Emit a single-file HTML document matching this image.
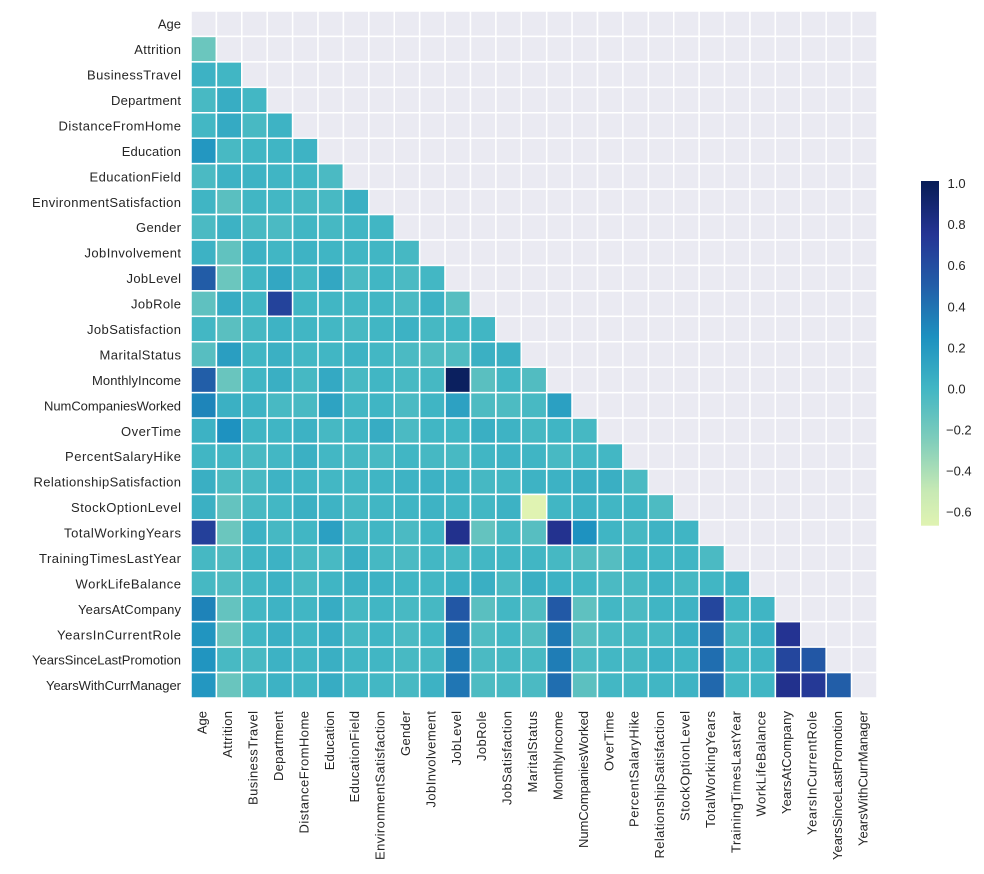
<!DOCTYPE html>
<html>
<head>
<meta charset="utf-8">
<style>
html,body{margin:0;padding:0;background:#fff;}
svg{display:block;}
text{font-family:"Liberation Sans",Arial,sans-serif;font-size:13px;fill:#262626;}
</style>
</head>
<body>
<svg id="chart" width="984" height="874" viewBox="0 0 984 874" xmlns="http://www.w3.org/2000/svg">
<defs>
<linearGradient id="cb" x1="0" y1="0" x2="0" y2="1">
<stop offset="0" stop-color="#081d58"/>
<stop offset="0.006" stop-color="#081d58"/>
<stop offset="0.155" stop-color="#253494"/>
<stop offset="0.304" stop-color="#225ea8"/>
<stop offset="0.453" stop-color="#1d91c0"/>
<stop offset="0.602" stop-color="#41b6c4"/>
<stop offset="0.751" stop-color="#7fcdbb"/>
<stop offset="0.9" stop-color="#c7e9b4"/>
<stop offset="1" stop-color="#e0f3b2"/>
</linearGradient>
</defs>
<rect x="0" y="0" width="984" height="874" fill="#ffffff"/>
<g id="cells"></g>

<g text-anchor="end">
<text x="181" y="28.72">Age</text>
<text x="181" y="54.16" textLength="46.7">Attrition</text>
<text x="181" y="79.6" textLength="94">BusinessTravel</text>
<text x="181" y="105.04" textLength="70">Department</text>
<text x="181" y="130.48" textLength="122.5">DistanceFromHome</text>
<text x="181" y="155.92" textLength="59.3">Education</text>
<text x="181" y="181.36" textLength="91.5">EducationField</text>
<text x="181" y="206.8" textLength="149">EnvironmentSatisfaction</text>
<text x="181" y="232.24" textLength="45">Gender</text>
<text x="181" y="257.68" textLength="96.5">JobInvolvement</text>
<text x="181" y="283.12" textLength="54.5">JobLevel</text>
<text x="181" y="308.56" textLength="50">JobRole</text>
<text x="181" y="334.0" textLength="94">JobSatisfaction</text>
<text x="181" y="359.44" textLength="81.5">MaritalStatus</text>
<text x="181" y="384.88" textLength="89">MonthlyIncome</text>
<text x="181" y="410.32" textLength="137">NumCompaniesWorked</text>
<text x="181" y="435.76" textLength="60">OverTime</text>
<text x="181" y="461.2" textLength="116">PercentSalaryHike</text>
<text x="181" y="486.64" textLength="147.5">RelationshipSatisfaction</text>
<text x="181" y="512.08" textLength="110">StockOptionLevel</text>
<text x="181" y="537.52" textLength="117">TotalWorkingYears</text>
<text x="181" y="562.96" textLength="142">TrainingTimesLastYear</text>
<text x="181" y="588.4" textLength="105.5">WorkLifeBalance</text>
<text x="181" y="613.84" textLength="103">YearsAtCompany</text>
<text x="181" y="639.28" textLength="124">YearsInCurrentRole</text>
<text x="181" y="664.72" textLength="149">YearsSinceLastPromotion</text>
<text x="181" y="690.16" textLength="135">YearsWithCurrManager</text>
</g>

<g text-anchor="end">
<text transform="translate(206.7,711) rotate(-90)">Age</text>
<text transform="translate(232.11,711) rotate(-90)" textLength="46.7">Attrition</text>
<text transform="translate(257.52,711) rotate(-90)" textLength="94">BusinessTravel</text>
<text transform="translate(282.93,711) rotate(-90)" textLength="70">Department</text>
<text transform="translate(308.34,711) rotate(-90)" textLength="122.5">DistanceFromHome</text>
<text transform="translate(333.75,711) rotate(-90)" textLength="59.3">Education</text>
<text transform="translate(359.16,711) rotate(-90)" textLength="91.5">EducationField</text>
<text transform="translate(384.57,711) rotate(-90)" textLength="149">EnvironmentSatisfaction</text>
<text transform="translate(409.98,711) rotate(-90)" textLength="45">Gender</text>
<text transform="translate(435.39,711) rotate(-90)" textLength="96.5">JobInvolvement</text>
<text transform="translate(460.8,711) rotate(-90)" textLength="54.5">JobLevel</text>
<text transform="translate(486.21,711) rotate(-90)" textLength="50">JobRole</text>
<text transform="translate(511.62,711) rotate(-90)" textLength="94">JobSatisfaction</text>
<text transform="translate(537.03,711) rotate(-90)" textLength="81.5">MaritalStatus</text>
<text transform="translate(562.44,711) rotate(-90)" textLength="89">MonthlyIncome</text>
<text transform="translate(587.85,711) rotate(-90)" textLength="137">NumCompaniesWorked</text>
<text transform="translate(613.26,711) rotate(-90)" textLength="60">OverTime</text>
<text transform="translate(638.67,711) rotate(-90)" textLength="116">PercentSalaryHike</text>
<text transform="translate(664.08,711) rotate(-90)" textLength="147.5">RelationshipSatisfaction</text>
<text transform="translate(689.49,711) rotate(-90)" textLength="110">StockOptionLevel</text>
<text transform="translate(714.9,711) rotate(-90)" textLength="117">TotalWorkingYears</text>
<text transform="translate(740.31,711) rotate(-90)" textLength="142">TrainingTimesLastYear</text>
<text transform="translate(765.72,711) rotate(-90)" textLength="105.5">WorkLifeBalance</text>
<text transform="translate(791.13,711) rotate(-90)" textLength="103">YearsAtCompany</text>
<text transform="translate(816.54,711) rotate(-90)" textLength="124">YearsInCurrentRole</text>
<text transform="translate(841.95,711) rotate(-90)" textLength="149">YearsSinceLastPromotion</text>
<text transform="translate(867.36,711) rotate(-90)" textLength="135">YearsWithCurrManager</text>
</g>

<rect x="921" y="181" width="18" height="344.7" fill="url(#cb)"/>
<g>
<text x="947.5" y="188">1.0</text>
<text x="947.5" y="229.1">0.8</text>
<text x="947.5" y="270.2">0.6</text>
<text x="947.5" y="311.3">0.4</text>
<text x="947.5" y="352.4">0.2</text>
<text x="947.5" y="393.5">0.0</text>
<text x="946" y="434.5">−0.2</text>
<text x="946" y="475.6">−0.4</text>
<text x="946" y="516.7">−0.6</text>
</g>
</svg>
<script>
(function(){
var L=[
[],
[-0.17],
[0.03,0.0],
[-0.03,0.06,-0.01],
[-0.01,0.08,-0.03,0.02],
[0.21,-0.03,0.0,0.01,0.02],
[-0.04,0.03,0.02,0.01,0.0,-0.04],
[0.01,-0.10,0.0,-0.01,-0.02,-0.03,0.04],
[-0.04,0.03,-0.03,-0.04,0.0,-0.02,0.0,0.0],
[0.03,-0.13,0.03,0.0,0.02,0.01,0.0,0.0,-0.02],
[0.51,-0.17,0.0,0.1,-0.01,0.1,-0.04,0.0,-0.04,-0.01],
[-0.12,0.07,0.0,0.66,0.0,0.0,-0.01,0.0,-0.04,0.03,-0.09],
[-0.01,-0.10,-0.02,0.02,0.0,-0.01,-0.03,0.0,0.03,-0.02,-0.01,0.0],
[-0.09,0.16,0.0,0.04,-0.01,0.0,0.02,-0.01,-0.04,-0.06,-0.06,0.04,0.04],
[0.50,-0.16,0.0,0.05,-0.02,0.09,-0.03,0.0,-0.03,-0.02,0.97,-0.10,-0.01,-0.07],
[0.31,0.04,0.02,-0.03,-0.03,0.13,-0.01,0.01,-0.04,0.01,0.14,-0.05,-0.05,-0.03,0.15],
[0.03,0.245,0.01,0.01,0.03,-0.02,0.0,0.07,-0.04,0.0,0.0,0.05,0.02,-0.02,0.01,-0.02],
[0.0,-0.01,-0.03,-0.01,0.04,-0.01,-0.02,-0.03,0.0,-0.02,-0.03,0.0,0.02,0.01,-0.03,-0.01,-0.01],
[0.05,-0.05,-0.03,0.02,0.01,-0.01,-0.01,0.01,0.02,0.03,0.02,-0.02,-0.01,0.02,0.03,0.05,0.05,-0.04],
[0.04,-0.14,-0.03,-0.01,0.04,0.02,-0.02,0.0,0.01,0.02,0.01,-0.01,0.03,-0.663,0.0,0.03,0.0,0.01,-0.05],
[0.68,-0.17,0.03,-0.02,0.0,0.15,-0.02,0.0,-0.04,0.0,0.78,-0.14,-0.02,-0.09,0.77,0.24,0.01,-0.02,0.02,0.01],
[-0.02,-0.06,0.01,0.03,-0.03,-0.03,0.05,-0.02,-0.04,-0.01,-0.02,-0.01,0.0,0.0,-0.02,-0.07,-0.08,0.0,0.0,0.01,-0.04],
[-0.02,-0.06,-0.01,0.03,-0.03,0.01,0.04,0.03,0.0,-0.01,0.04,0.05,-0.04,0.05,0.03,0.0,-0.04,-0.03,0.02,-0.02,0.0,0.03],
[0.32,-0.14,-0.01,0.02,0.0,0.07,-0.02,0.0,-0.03,-0.02,0.54,-0.10,-0.01,-0.06,0.53,-0.12,-0.01,-0.04,0.01,0.02,0.64,0.0,0.01],
[0.22,-0.16,0.0,0.05,0.01,0.06,-0.02,0.01,-0.04,0.0,0.39,-0.06,-0.01,-0.07,0.37,-0.09,-0.03,-0.02,-0.02,0.05,0.44,-0.03,0.05,0.76],
[0.22,-0.03,-0.03,0.03,0.01,0.05,0.0,0.0,-0.03,-0.02,0.36,-0.04,-0.02,-0.03,0.35,-0.04,-0.01,-0.02,0.03,0.01,0.42,0.0,0.01,0.64,0.54],
[0.21,-0.16,-0.02,0.03,0.01,0.07,0.0,-0.01,-0.03,0.03,0.38,-0.05,-0.03,-0.04,0.42,-0.11,-0.01,-0.01,0.0,0.02,0.45,-0.01,0.0,0.78,0.72,0.50]
];
var cm=[[255,255,217],[237,248,177],[199,233,180],[127,205,187],[65,182,196],[29,145,192],[34,94,168],[37,52,148],[8,29,88]];
function col(v){
  var t=(v+1)/2; if(t<0)t=0; if(t>1)t=1;
  var p=t*8, i=Math.floor(p); if(i>7)i=7; var f=p-i;
  var a=cm[i], b=cm[i+1];
  var r=Math.round(a[0]+(b[0]-a[0])*f), g=Math.round(a[1]+(b[1]-a[1])*f), bb=Math.round(a[2]+(b[2]-a[2])*f);
  return 'rgb('+r+','+g+','+bb+')';
}
var NS='http://www.w3.org/2000/svg';
var g=document.getElementById('cells');
var x0=191, y0=11, pw=686/27, ph=687/27;
for(var i=0;i<27;i++){
  for(var j=0;j<27;j++){
    var r=document.createElementNS(NS,'rect');
    r.setAttribute('x',(x0+j*pw).toFixed(2));
    r.setAttribute('y',(y0+i*ph).toFixed(2));
    r.setAttribute('width',pw.toFixed(2));
    r.setAttribute('height',ph.toFixed(2));
    var fill='#eaeaf2';
    if(j<i){ fill=col(L[i][j]); }
    r.setAttribute('fill',fill);
    r.setAttribute('stroke','#ffffff');
    r.setAttribute('stroke-width','1.5');
    g.appendChild(r);
  }
}
})();
</script>
</body>
</html>
